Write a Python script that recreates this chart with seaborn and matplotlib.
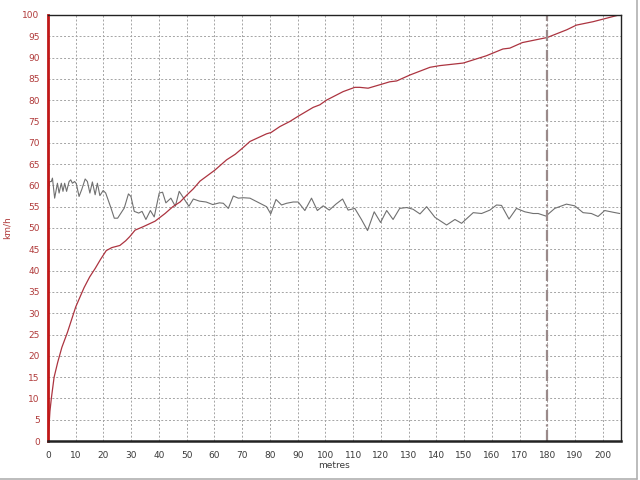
import numpy as np
import pandas as pd
import matplotlib
matplotlib.use("Agg")
import matplotlib.pyplot as plt
import seaborn as sns
from matplotlib.lines import Line2D
from matplotlib.ticker import MultipleLocator

# Speed curve (red) - distance in metres, speed in km/h
speed_dist = [0, 0.3, 0.7, 1.2, 2.2, 3.5, 5, 7, 10, 13, 15, 17, 19, 21, 23, 25.9,
              28, 29.5, 31.4, 34.3, 38.6, 42.2, 45, 47.6, 50, 52.4, 54.8, 60.2,
              64.4, 67.5, 70.4, 72.8, 78.8, 80.4, 83.6, 87.2, 90.4, 95.6, 98,
              100.4, 106.4, 110.6, 112.4, 115.4, 119.6, 123.2, 125.7, 130.5,
              132.9, 137.7, 141.3, 149.7, 158, 164, 166.5, 171, 180, 187, 190.5,
              196.5, 206]
speed_kmh = [0, 3, 7, 10, 15, 18.5, 22, 25.5, 31.5, 36, 38.5, 40.5, 42.7, 44.7,
             45.4, 45.9, 47, 48, 49.5, 50.3, 51.6, 53.4, 55, 56.1, 57.7, 59.2,
             61.0, 63.6, 66.0, 67.3, 68.9, 70.3, 72.1, 72.4, 73.8, 75.0, 76.3,
             78.3, 78.9, 80.0, 82.0, 83.0, 83.0, 82.8, 83.6, 84.3, 84.5, 85.9,
             86.5, 87.7, 88.1, 88.7, 90.4, 92, 92.2, 93.5, 94.7, 96.5, 97.6,
             98.4, 100]

# Second trace (grey)
trace_dist = [0, 0.6, 1.2, 1.6, 2.4, 3.4, 4.0, 4.8, 5.4, 6.0, 6.7, 7.6, 8.2, 8.8,
              9.6, 10.2, 11.2, 12.2, 13.4, 14.2, 15.1, 16.0, 17.0, 17.8, 18.7,
              19.9, 20.8, 22.7, 23.9, 25.1, 27.5, 29.0, 29.9, 31.1, 32.7, 33.9,
              35.3, 36.9, 38.3, 40.1, 41.3, 42.5, 44.3, 45.9, 47.3, 49.1, 50.8,
              52.4, 54.6, 57.0, 59.4, 61.8, 63.2, 65.0, 66.8, 68.6, 70.4, 72.8,
              75.2, 77.6, 78.8, 80.3, 82.2, 84.2, 86.0, 88.4, 90.2, 92.6, 95.0,
              97.1, 99.2, 101.4, 103.8, 106.2, 108.2, 110.6, 113.0, 115.2, 117.6,
              119.9, 122.1, 124.4, 126.8, 129.3, 131.6, 134.1, 136.5, 139.5,
              143.7, 146.7, 149.1, 153.3, 156.3, 159.3, 161.7, 163.5, 166.2,
              168.9, 171.9, 174.9, 176.7, 179.5, 182.7, 186.9, 189.9, 192.9,
              195.9, 198.3, 200.7, 203.7, 206.1]
trace_val = [57.4, 60.9, 60.9, 61.7, 57.0, 60.5, 58.2, 60.5, 58.6, 60.5, 58.6,
             60.9, 61.3, 60.5, 60.9, 60.4, 57.4, 59.1, 61.5, 60.9, 58.2, 60.8,
             57.8, 60.5, 57.6, 58.8, 58.2, 54.7, 52.3, 52.3, 54.7, 58.0, 57.4,
             53.9, 53.5, 53.9, 52.0, 54.1, 52.6, 58.2, 58.4, 55.9, 57.0, 55.1,
             58.6, 56.8, 55.1, 56.8, 56.3, 56.1, 55.5, 55.9, 55.8, 54.6, 57.5,
             57.0, 57.1, 57.0, 56.2, 55.4, 55.0, 53.3, 56.7, 55.4, 55.8, 56.1,
             56.1, 54.1, 57.0, 54.1, 55.2, 54.2, 55.6, 56.8, 54.2, 54.6, 52.0,
             49.4, 53.8, 51.3, 54.1, 52.0, 54.6, 54.8, 54.4, 53.3, 55.0, 52.5,
             50.7, 52.0, 51.1, 53.6, 53.4, 54.2, 55.4, 55.3, 52.1, 54.6, 53.8,
             53.4, 53.4, 52.8, 54.6, 55.6, 55.2, 53.6, 53.4, 52.7, 54.1, 53.7,
             53.4]

marker_x = 180

sns.set_style("white")
plt.rcParams["font.family"] = ["DejaVu Sans"]

speed_df = pd.DataFrame({"metres": speed_dist, "kmh": speed_kmh})
trace_df = pd.DataFrame({"metres": trace_dist, "kmh": trace_val})

fig = plt.figure(figsize=(6.4, 4.8), dpi=100)
ax = fig.add_axes([0.075, 0.081, 0.895, 0.888])

# light dotted grid
ax.grid(True, which="major", color="#a4a4a4", linestyle=(0, (2, 2)), linewidth=0.7)
ax.set_axisbelow(True)

sns.lineplot(data=trace_df, x="metres", y="kmh", ax=ax, color="#707070",
             linewidth=0.8, estimator=None, sort=False)
sns.lineplot(data=speed_df, x="metres", y="kmh", ax=ax, color="#ac3440",
             linewidth=0.9, estimator=None, sort=False)
ax.axvline(marker_x, color="#9a8a8a", linewidth=1.6, linestyle=(0, (5, 1.5, 1, 1.5)))

ax.set_xlim(0, 206.5)
ax.set_ylim(0, 100)
ax.xaxis.set_major_locator(MultipleLocator(10))
ax.xaxis.set_minor_locator(MultipleLocator(2))
ax.yaxis.set_major_locator(MultipleLocator(5))

ax.tick_params(axis="x", which="major", direction="out", length=4, width=0.8,
               labelsize=6.5, colors="#3a3a3a", pad=3)
ax.tick_params(axis="x", which="minor", direction="out", length=2, width=0.6,
               colors="#3a3a3a")
ax.tick_params(axis="y", direction="out", length=4, width=0.8,
               labelsize=6.5, colors="#b03a3a", pad=2)

ax.set_xlabel("metres", fontsize=6.5, color="#3a3a3a", labelpad=1)
ax.set_ylabel("km/h", fontsize=6.5, color="#b03a3a", labelpad=8)

for side in ["top", "right"]:
    ax.spines[side].set_color("#222222")
    ax.spines[side].set_linewidth(1.0)
ax.spines["bottom"].set_color("#222222")
ax.spines["bottom"].set_linewidth(1.8)
ax.spines["left"].set_color("#c01818")
ax.spines["left"].set_linewidth(2.0)

# light frame along the right and bottom image edges
fig.add_artist(Line2D([0, 0.995], [0.003, 0.003], transform=fig.transFigure,
                      color="#b0b0b0", linewidth=1.2))
fig.add_artist(Line2D([0.995, 0.995], [0.003, 1.0], transform=fig.transFigure,
                      color="#b0b0b0", linewidth=1.2))

fig.savefig("out.png", dpi=100)
